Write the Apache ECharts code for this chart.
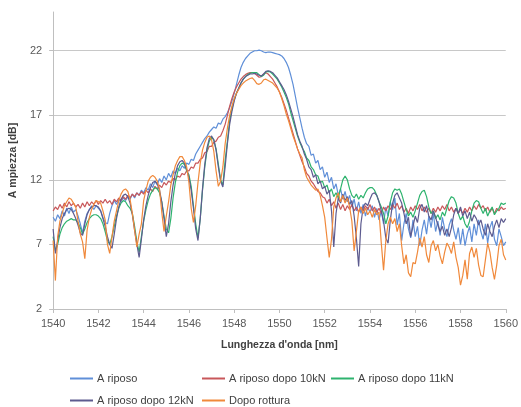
<!DOCTYPE html>
<html>
<head>
<meta charset="utf-8">
<script src="https://cdn.jsdelivr.net/npm/echarts@6/dist/echarts.min.js"></script>
<style>html,body{margin:0;padding:0;background:#fff}#c{width:521px;height:407px}</style>
</head>
<body>
<div id="c"></div>
<script>
const seriesNames = ['A riposo', 'A riposo dopo 10kN', 'A riposo dopo 11kN', 'A riposo dopo 12kN', 'Dopo rottura'];
const xTicks = [1540, 1542, 1544, 1546, 1548, 1550, 1552, 1554, 1556, 1558, 1560];
const yTicks = [2, 7, 12, 17, 22];

const wavelength = [
1540.0,1540.1,1540.2,1540.3,1540.4,1540.5,1540.6,1540.7,1540.8,1540.9,
1541.0,1541.1,1541.2,1541.3,1541.4,1541.5,1541.6,1541.7,1541.8,1541.9,
1542.0,1542.1,1542.2,1542.3,1542.4,1542.5,1542.6,1542.7,1542.8,1542.9,
1543.0,1543.1,1543.2,1543.3,1543.4,1543.5,1543.6,1543.7,1543.8,1543.9,
1544.0,1544.1,1544.2,1544.3,1544.4,1544.5,1544.6,1544.7,1544.8,1544.9,
1545.0,1545.1,1545.2,1545.3,1545.4,1545.5,1545.6,1545.7,1545.8,1545.9,
1546.0,1546.1,1546.2,1546.3,1546.4,1546.5,1546.6,1546.7,1546.8,1546.9,
1547.0,1547.1,1547.2,1547.3,1547.4,1547.5,1547.6,1547.7,1547.8,1547.9,
1548.0,1548.1,1548.2,1548.3,1548.4,1548.5,1548.6,1548.7,1548.8,1548.9,
1549.0,1549.1,1549.2,1549.3,1549.4,1549.5,1549.6,1549.7,1549.8,1549.9,
1550.0,1550.1,1550.2,1550.3,1550.4,1550.5,1550.6,1550.7,1550.8,1550.9,
1551.0,1551.1,1551.2,1551.3,1551.4,1551.5,1551.6,1551.7,1551.8,1551.9,
1552.0,1552.1,1552.2,1552.3,1552.4,1552.5,1552.6,1552.7,1552.8,1552.9,
1553.0,1553.1,1553.2,1553.3,1553.4,1553.5,1553.6,1553.7,1553.8,1553.9,
1554.0,1554.1,1554.2,1554.3,1554.4,1554.5,1554.6,1554.7,1554.8,1554.9,
1555.0,1555.1,1555.2,1555.3,1555.4,1555.5,1555.6,1555.7,1555.8,1555.9,
1556.0,1556.1,1556.2,1556.3,1556.4,1556.5,1556.6,1556.7,1556.8,1556.9,
1557.0,1557.1,1557.2,1557.3,1557.4,1557.5,1557.6,1557.7,1557.8,1557.9,
1558.0,1558.1,1558.2,1558.3,1558.4,1558.5,1558.6,1558.7,1558.8,1558.9,
1559.0,1559.1,1559.2,1559.3,1559.4,1559.5,1559.6,1559.7,1559.8,1559.9,
1560.0];

const aRiposo = [
9.1,8.8,9.3,9.0,9.6,9.2,9.8,9.4,9.9,9.5,
9.7,9.2,8.6,7.9,8.8,9.4,9.7,10.0,9.7,10.0,
9.8,9.6,9.1,8.7,8.6,9.4,10.0,10.4,10.1,10.5,
10.3,10.6,10.4,10.7,10.5,10.9,10.6,11.0,10.8,11.2,
11.0,11.4,11.2,11.7,11.4,11.9,11.6,12.1,11.8,12.3,
12.0,12.5,12.2,12.7,12.5,12.9,12.7,13.1,12.9,13.3,
13.2,13.6,13.5,14.0,14.3,14.6,14.9,15.2,15.4,15.7,
15.9,16.1,16.0,16.4,16.3,16.7,16.9,17.2,17.6,18.1,
18.7,19.4,20.1,20.7,21.1,21.4,21.6,21.8,21.9,22.0,
22.0,22.05,22.0,21.9,21.85,21.9,21.9,21.85,21.8,21.75,
21.7,21.6,21.4,21.1,20.7,20.1,19.4,18.5,17.6,16.8,
16.0,15.3,14.8,14.6,13.9,14.0,13.3,13.5,12.8,13.0,
12.2,12.6,11.8,12.2,11.3,11.7,10.8,11.3,10.5,11.1,
10.3,10.8,9.9,10.5,9.6,10.3,9.4,10.1,9.2,9.9,
9.5,10.0,9.1,9.8,8.9,9.6,8.6,9.9,9.2,10.3,
9.7,10.6,8.5,9.4,7.3,8.6,9.4,8.2,7.5,8.9,
7.6,8.4,6.9,8.1,8.9,7.8,9.2,8.3,9.4,8.0,
8.8,7.7,9.1,8.2,7.6,8.5,9.0,8.1,7.4,8.3,
7.0,8.2,6.9,7.8,8.4,7.2,8.6,7.7,8.9,8.0,
7.4,8.6,7.1,8.3,8.8,7.4,6.9,8.2,7.6,6.9,
7.2];

const dopo10kN = [
9.6,9.9,9.7,10.1,9.8,10.2,9.9,10.3,10.0,10.2,
9.9,10.1,9.8,10.2,9.9,10.3,10.0,10.3,10.1,10.4,
10.1,10.4,10.2,10.5,10.2,10.4,10.1,10.5,10.3,10.6,
10.4,10.7,10.5,10.8,10.6,10.9,10.7,11.0,10.8,11.1,
10.9,11.2,11.0,11.3,11.1,11.5,11.3,11.6,11.4,11.8,
11.6,11.9,11.8,12.1,12.0,12.3,12.2,12.5,12.4,12.7,
12.7,13.0,12.9,13.3,13.3,13.6,13.7,14.1,14.2,14.6,
14.6,14.9,15.0,15.3,15.4,15.8,16.3,17.0,17.7,18.3,
18.8,19.2,19.5,19.8,20.0,20.15,20.25,20.3,20.3,20.25,
20.1,19.95,20.0,20.2,20.3,20.2,20.0,19.8,19.5,19.2,
18.8,18.4,17.9,17.4,16.8,16.2,15.6,15.0,14.4,13.9,
13.4,13.0,12.5,12.3,11.9,11.7,11.4,11.1,11.0,10.7,
10.6,10.2,10.5,10.0,10.3,9.8,10.2,9.7,10.1,9.6,
10.0,9.7,10.1,9.6,9.9,9.5,9.9,9.6,10.0,9.7,
10.1,9.6,9.9,9.5,9.8,9.4,9.9,9.6,10.0,9.7,
10.1,9.8,10.2,9.7,10.0,9.5,9.8,9.4,9.9,9.6,
10.0,9.7,10.1,9.6,9.9,9.5,9.8,9.4,9.8,9.5,
9.9,9.6,10.0,9.7,10.1,9.6,9.9,9.5,9.8,9.4,
9.7,9.4,9.8,9.5,9.9,9.6,10.0,9.7,10.1,9.8,
10.0,9.6,9.9,9.5,9.8,9.4,9.8,9.6,9.9,9.7,
9.8];

const dopo11kN = [
7.6,6.5,7.0,7.8,8.3,8.6,8.8,8.9,9.0,8.9,
8.9,8.7,8.3,7.8,8.2,8.7,9.0,9.2,9.3,9.3,
9.2,9.0,8.6,8.0,7.3,7.0,7.6,8.4,9.2,9.8,
10.2,10.4,10.3,10.0,9.8,9.4,8.4,7.2,6.4,7.6,
8.8,9.7,10.4,10.9,11.2,11.4,11.3,11.0,10.3,9.2,
8.2,7.9,9.0,10.6,11.8,12.6,13.1,13.3,13.2,12.7,
12.4,11.5,10.0,8.6,7.5,9.0,11.2,13.0,14.3,15.0,
15.3,15.1,14.4,13.2,12.0,11.6,13.5,15.0,16.6,17.5,
18.2,18.7,19.1,19.5,19.8,20.0,20.15,20.25,20.3,20.3,
20.3,20.15,20.0,20.1,20.35,20.4,20.35,20.2,20.0,19.8,
19.5,19.2,18.8,18.4,17.9,17.2,16.6,16.0,15.4,14.9,
14.5,14.2,13.7,13.5,13.0,12.8,12.4,12.3,11.8,11.9,
11.4,11.6,11.0,11.3,10.7,11.0,10.6,11.3,12.0,12.3,
12.0,11.3,10.8,10.6,10.9,10.5,10.8,10.6,11.0,11.3,
11.4,11.4,11.2,10.8,10.3,9.9,9.4,8.6,9.2,10.3,
11.0,11.3,11.2,11.3,10.9,10.3,9.7,9.2,9.5,9.1,
9.6,10.2,10.8,11.1,11.2,10.7,9.9,9.4,9.6,9.0,
9.3,8.9,9.5,9.2,9.8,10.4,10.7,10.6,10.2,9.4,
8.9,9.2,8.6,8.3,8.8,9.6,10.2,10.4,10.3,9.8,
9.4,9.8,9.2,9.6,9.9,9.3,9.6,9.8,10.2,10.1,
10.2];

const dopo12kN = [
8.2,6.3,7.3,8.3,9.0,9.4,9.7,9.8,9.7,9.4,
9.0,8.5,7.9,7.7,8.6,9.3,9.7,9.9,10.0,10.0,
9.9,9.6,9.0,8.4,7.6,7.0,6.7,7.8,9.0,9.9,
10.5,10.8,10.9,10.7,10.2,9.3,8.1,7.0,6.0,7.4,
8.9,10.0,10.8,11.4,11.8,11.9,11.7,11.2,10.3,9.0,
7.6,8.6,10.3,11.6,12.5,13.1,13.4,13.5,13.3,12.8,
12.2,11.2,9.8,8.2,7.3,9.0,11.3,13.2,14.5,15.2,
15.4,15.1,14.3,13.0,11.9,11.45,13.0,14.8,16.3,17.3,
18.1,18.7,19.1,19.5,19.8,20.0,20.1,20.2,20.2,20.25,
20.2,20.1,20.05,20.2,20.4,20.45,20.4,20.3,20.1,19.9,
19.6,19.3,19.0,18.6,18.1,17.5,16.9,16.2,15.5,15.0,
14.6,14.0,13.6,13.0,12.8,12.2,12.4,11.7,11.9,11.3,
11.5,10.9,11.2,9.6,6.8,9.4,10.6,10.2,10.9,10.4,
10.7,10.1,10.4,9.2,7.5,5.3,8.6,9.9,10.2,10.0,
10.5,10.9,11.0,10.8,10.3,9.6,8.8,7.5,7.1,8.9,
10.2,10.8,11.0,10.6,10.2,9.4,8.6,9.1,7.6,8.4,
9.2,8.7,9.8,10.1,9.5,10.0,9.2,8.9,9.6,9.1,
8.5,8.0,8.4,7.7,8.2,7.6,8.3,9.3,9.8,9.4,
9.9,9.2,9.6,9.0,9.5,8.8,9.3,9.0,8.5,8.9,
8.2,7.7,8.6,8.0,7.6,8.4,8.9,8.3,9.0,8.7,
9.0];

const dopoRottura = [
7.3,4.2,7.6,8.8,9.4,10.0,10.3,10.6,10.5,10.2,
9.9,8.8,7.8,7.2,5.9,8.1,9.1,9.7,10.1,10.4,
10.3,10.2,9.6,8.9,7.0,6.3,7.6,8.8,9.6,10.4,
10.9,11.2,11.3,11.1,10.5,9.4,8.1,6.8,7.8,8.6,
10.4,11.2,11.9,12.2,12.35,12.2,11.9,11.3,9.5,8.0,
9.2,10.3,11.6,12.4,13.1,13.5,13.8,13.8,13.5,13.0,
11.8,9.8,8.7,10.0,11.8,13.3,14.3,14.9,15.3,15.4,
15.1,14.2,12.7,11.5,11.9,13.0,14.8,16.0,17.0,17.7,
18.3,18.7,19.0,19.3,19.5,19.65,19.75,19.85,19.9,19.7,
19.45,19.4,19.5,19.75,19.8,19.7,19.6,19.5,19.3,19.1,
18.8,18.3,17.75,17.1,16.6,16.0,15.4,14.9,14.4,14.0,
13.7,12.8,12.2,11.9,11.6,11.4,11.2,11.3,10.8,10.0,
9.1,7.5,6.0,7.4,9.9,10.6,11.0,10.3,10.8,10.2,
10.6,9.9,8.8,6.5,8.0,9.6,9.9,9.4,9.8,9.3,
9.6,9.1,9.7,9.3,9.5,7.1,5.0,7.3,8.6,9.1,
8.6,9.0,8.0,8.6,6.9,5.5,6.2,4.8,4.5,5.6,
5.5,6.4,7.5,6.8,7.6,6.2,5.6,6.9,7.3,6.5,
7.0,6.1,5.5,6.4,7.1,6.8,6.3,7.2,6.0,5.2,
3.85,4.6,5.8,4.3,6.3,6.8,6.0,6.7,5.4,4.6,
4.5,5.8,7.1,6.4,5.2,4.3,5.4,6.9,7.4,6.2,
5.8];

const seriesValues = [aRiposo, dopo10kN, dopo11kN, dopo12kN, dopoRottura];
const colors = ['#5f8fd8', '#c8575a', '#2eb36e', '#5d5b8f', '#f0893b'];

const FONT = 'Liberation Sans';
const chart = echarts.init(document.getElementById('c'), null, {renderer: 'canvas'});

const legendPos = [
  {left: 70, top: 373},
  {left: 202, top: 373},
  {left: 331, top: 373},
  {left: 70, top: 395},
  {left: 202, top: 395}
];

const option = {
  animation: false,
  color: colors,
  grid: {left: 50, right: 8, top: 12, bottom: 98},
  legend: seriesNames.map((n, i) => ({
    data: [n],
    left: legendPos[i].left,
    top: legendPos[i].top,
    padding: 0,
    icon: 'rect',
    itemWidth: 23,
    itemHeight: 2,
    itemGap: 0,
    selectedMode: false,
    textStyle: {fontFamily: FONT, fontSize: 11, color: '#404040', padding: [0, 0, 0, -1]}
  })),
  xAxis: {
    type: 'value',
    min: xTicks[0],
    max: xTicks[xTicks.length - 1],
    interval: 2,
    name: "Lunghezza d'onda [nm]",
    nameLocation: 'middle',
    nameGap: 31,
    nameTextStyle: {fontFamily: FONT, fontSize: 10.5, fontWeight: 'bold', color: '#404040'},
    axisLine: {show: true, lineStyle: {color: '#bfbfbf', width: 1}},
    axisTick: {show: true, length: 4, lineStyle: {color: '#bfbfbf'}},
    axisLabel: {fontFamily: FONT, fontSize: 11, color: '#595959', margin: 9, formatter: v => String(v)},
    splitLine: {show: false}
  },
  yAxis: {
    type: 'value',
    min: 2,
    max: 25,
    interval: 5,
    name: 'A mpiezza [dB]',
    nameLocation: 'middle',
    nameGap: 33,
    nameRotate: 90,
    nameTextStyle: {fontFamily: FONT, fontSize: 10.5, fontWeight: 'bold', color: '#404040'},
    axisLine: {show: true, lineStyle: {color: '#bfbfbf', width: 1}},
    axisTick: {show: true, length: 4, customValues: yTicks, lineStyle: {color: '#bfbfbf'}},
    axisLabel: {fontFamily: FONT, fontSize: 11, color: '#595959', margin: 11, customValues: yTicks, formatter: v => String(v)},
    splitLine: {show: true, showMinLine: false, showMaxLine: true, lineStyle: {color: '#c8c8c8', width: 1}}
  },
  series: seriesNames.map((n, i) => ({
    name: n,
    type: 'line',
    showSymbol: false,
    symbol: 'none',
    lineStyle: {width: 1.2, color: colors[i]},
    itemStyle: {color: colors[i]},
    data: wavelength.map((w, k) => [w, seriesValues[i][k]])
  }))
};
chart.setOption(option);
</script>
</body>
</html>
